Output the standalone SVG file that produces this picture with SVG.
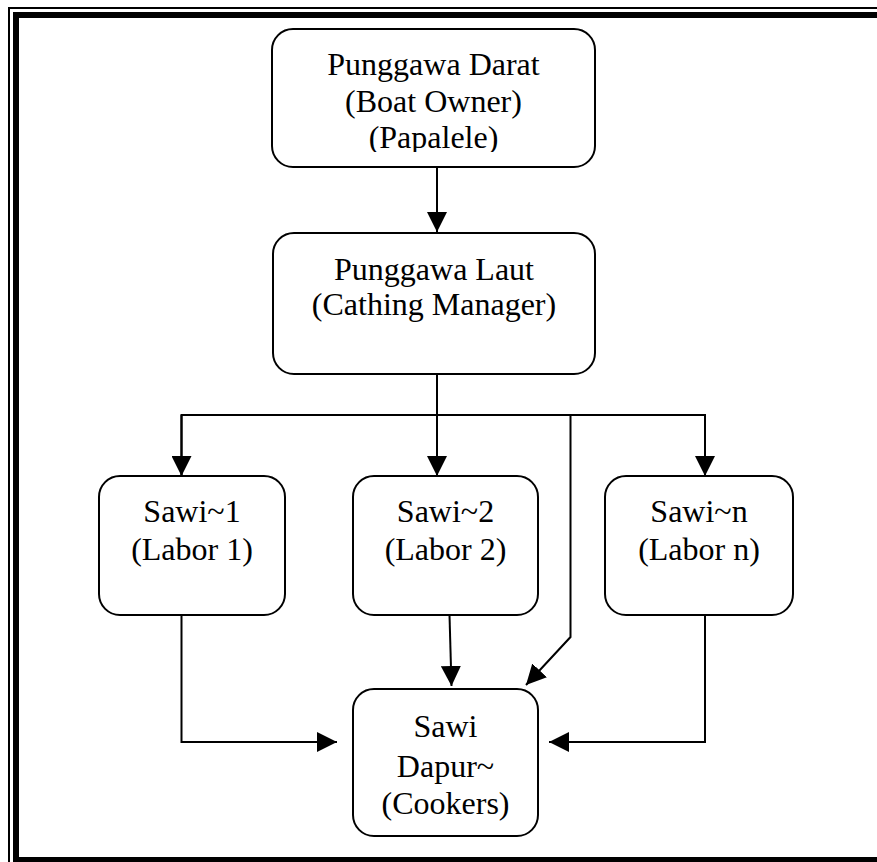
<svg xmlns="http://www.w3.org/2000/svg" width="877" height="862" viewBox="0 0 877 862">
<style>
.box{fill:#fff;stroke:#000;stroke-width:2}
.lbl{font-family:"Liberation Serif","Times New Roman",serif;font-size:32px;fill:#000;text-anchor:middle}
.con{fill:none;stroke:#000;stroke-width:2}
.frame{stroke:#000;fill:none}
</style>
<defs>
<marker id="ah" markerUnits="userSpaceOnUse" markerWidth="20" markerHeight="20" viewBox="0 0 20 20" refX="20" refY="10" orient="auto">
<path d="M0,0 L20,10 L0,20 z" fill="#000"/>
</marker>
<clipPath id="clipTop"><rect x="272" y="29" width="323" height="123"/></clipPath>
</defs>
<rect x="0" y="0" width="877" height="862" fill="#fff"/>
<g id="frame">
<path class="frame" stroke-width="2" d="M9,877 V8 H877"/>
<path class="frame" stroke-width="6" d="M16,870 V15 H877"/>
<path class="frame" stroke-width="6" d="M13,860 H877"/>
</g>
<g id="connectors">
<line class="con" x1="437" y1="167" x2="437" y2="232" marker-end="url(#ah)"/>
<line class="con" x1="437" y1="374" x2="437" y2="476" marker-end="url(#ah)"/>
<polyline class="con" points="181.5,476 181.5,415 705,415 705,476" marker-end="url(#ah)"/>
<path class="con" d="M181.5,415 V476" marker-end="url(#ah)"/>
<path class="con" d="M570.5,415 V637 L526,685" marker-end="url(#ah)"/>
<path class="con" d="M449.5,615 L451.5,686" marker-end="url(#ah)"/>
<path class="con" d="M181.5,615 V742 H337" marker-end="url(#ah)"/>
<path class="con" d="M705,615 V742 H549" marker-end="url(#ah)"/>
</g>
<g id="punggawa-darat">
<rect class="box" x="272" y="29" width="323" height="138" rx="21"/>
<g clip-path="url(#clipTop)">
<text class="lbl" x="433.5" y="75">Punggawa Darat</text>
<text class="lbl" x="433.5" y="112">(Boat Owner)</text>
<text class="lbl" x="433.5" y="148">(Papalele)</text>
</g>
</g>
<g id="punggawa-laut">
<rect class="box" x="273" y="233" width="322" height="141" rx="21"/>
<text class="lbl" x="434" y="280">Punggawa Laut</text>
<text class="lbl" x="434" y="315">(Cathing Manager)</text>
</g>
<g id="sawi-1">
<rect class="box" x="99" y="476" width="186" height="139" rx="21"/>
<text class="lbl" x="192" y="522">Sawi~1</text>
<text class="lbl" x="192" y="560">(Labor 1)</text>
</g>
<g id="sawi-2">
<rect class="box" x="353" y="476" width="185" height="139" rx="21"/>
<text class="lbl" x="445.5" y="522">Sawi~2</text>
<text class="lbl" x="445.5" y="560">(Labor 2)</text>
</g>
<g id="sawi-n">
<rect class="box" x="605" y="476" width="188" height="139" rx="21"/>
<text class="lbl" x="699" y="522">Sawi~n</text>
<text class="lbl" x="699" y="560">(Labor n)</text>
</g>
<g id="sawi-dapur">
<rect class="box" x="353" y="689" width="185" height="147" rx="21"/>
<text class="lbl" x="445.5" y="737">Sawi</text>
<text class="lbl" x="445.5" y="777">Dapur~</text>
<text class="lbl" x="445.5" y="814">(Cookers)</text>
</g>
</svg>
